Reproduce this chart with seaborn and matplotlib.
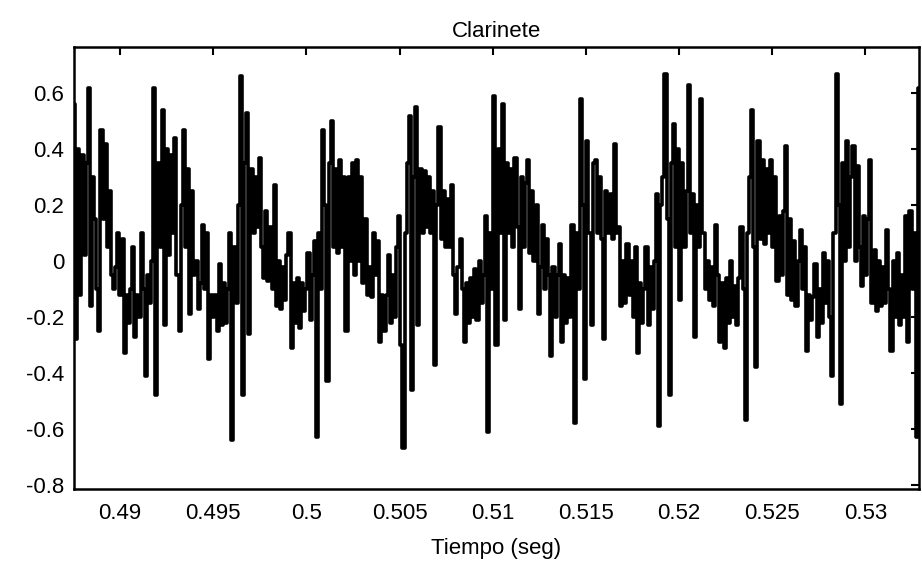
import numpy as np
import pandas as pd
import seaborn as sns
import matplotlib
matplotlib.use("Agg")
import matplotlib.pyplot as plt


FS = 8820            # Hz, sample rate of the trace
T_START = 0.48753    # seconds, first sample shown

# amplitude samples
amp_p01 = [0.56, -0.28, 0.40, -0.12, 0.38, 0.02, 0.35, 0.62, -0.16, 0.30,
           0.15, -0.10, -0.25, 0.47, 0.15, 0.42, 0.05, 0.25, -0.05, -0.10,
           -0.02, 0.10, -0.12, 0.08, -0.33, -0.12, -0.22, -0.10, 0.05, -0.27,
           -0.12, -0.20, 0.10, -0.10, -0.41, -0.05, -0.15, 0.00, 0.62, -0.48]
amp_p02 = [0.35, 0.05, 0.54, -0.23, 0.40, 0.02, 0.38, 0.10, 0.44, -0.05,
           -0.25, 0.20, 0.47, 0.05, 0.33, -0.19, 0.25, -0.05, 0.00, -0.17,
           -0.08, 0.13, -0.10, 0.10, -0.35, -0.12, -0.20, -0.12, -0.25, -0.01,
           -0.23, -0.08, -0.22, -0.10, 0.10, -0.64, 0.05, -0.15, 0.20, 0.66]
amp_p03 = [-0.48, 0.35, 0.53, -0.26, 0.33, 0.10, 0.30, 0.12, 0.37, 0.05,
           -0.06, 0.18, -0.07, 0.12, -0.10, 0.27, -0.16, 0.00, -0.17, -0.02,
           -0.14, 0.02, 0.10, -0.31, -0.08, -0.22, -0.06, -0.24, -0.08, -0.18,
           -0.10, 0.03, -0.21, -0.05, 0.07, -0.63, 0.10, -0.10, 0.47, 0.20]
amp_p04 = [-0.43, 0.35, 0.50, 0.05, 0.33, 0.03, 0.36, 0.05, 0.30, -0.25,
           0.30, 0.00, 0.35, -0.05, 0.36, 0.00, 0.30, -0.08, 0.15, -0.12,
           -0.02, -0.13, 0.10, -0.05, 0.07, -0.29, -0.12, -0.25, -0.12, 0.02,
           -0.22, -0.05, -0.20, 0.05, 0.16, -0.30, -0.67, 0.10, 0.35, 0.52]
amp_p05 = [-0.46, 0.30, 0.55, -0.23, 0.33, 0.10, 0.32, 0.12, 0.30, 0.10,
           0.25, -0.37, 0.20, 0.48, 0.08, 0.25, 0.05, 0.22, 0.05, 0.27,
           -0.05, -0.19, -0.02, 0.08, -0.10, -0.29, -0.08, -0.22, -0.06, -0.20,
           -0.03, -0.21, 0.00, -0.15, -0.05, 0.16, -0.61, 0.10, -0.10, 0.59]
amp_p06 = [-0.30, 0.40, 0.10, 0.56, -0.21, 0.35, 0.10, 0.33, 0.05, 0.37,
           0.12, -0.17, 0.30, 0.05, 0.28, 0.36, 0.03, 0.25, 0.00, 0.20,
           -0.19, -0.02, 0.13, -0.10, 0.08, -0.05, -0.34, -0.02, -0.20, -0.05,
           0.06, -0.29, -0.05, -0.22, -0.06, -0.20, 0.13, -0.58, 0.10, -0.10]
amp_p07 = [0.58, 0.20, -0.42, 0.43, 0.10, -0.23, 0.35, 0.36, 0.10, 0.30,
           0.08, -0.28, 0.25, 0.10, 0.24, 0.08, 0.42, 0.10, 0.12, -0.16,
           0.00, -0.15, 0.06, -0.12, 0.00, -0.20, 0.05, -0.33, -0.08, -0.22,
           -0.10, 0.05, -0.23, -0.02, -0.17, 0.00, 0.24, -0.59, 0.20, 0.30]
amp_p08 = [0.67, 0.15, -0.48, 0.35, 0.49, 0.05, 0.40, -0.14, 0.35, 0.05,
           0.25, 0.63, 0.10, 0.24, -0.27, 0.20, 0.05, 0.58, 0.10, -0.10,
           0.00, -0.14, -0.02, -0.16, 0.13, -0.05, -0.29, -0.08, -0.31, -0.06,
           -0.22, 0.00, -0.20, -0.09, -0.23, -0.06, 0.12, -0.10, -0.57, 0.10]
amp_p09 = [0.30, 0.54, 0.05, -0.38, 0.43, 0.08, 0.36, 0.06, 0.33, 0.10,
           0.36, 0.05, 0.30, -0.07, 0.16, -0.05, 0.18, 0.41, -0.12, 0.15,
           -0.14, 0.07, -0.16, 0.00, 0.11, -0.10, 0.05, -0.32, -0.12, -0.21,
           -0.13, -0.01, -0.27, -0.10, -0.22, 0.03, -0.15, 0.00, -0.20, -0.41]
amp_p10 = [0.10, 0.67, 0.20, -0.51, 0.35, 0.00, 0.43, 0.05, 0.30, 0.41,
           0.00, 0.34, 0.05, -0.09, 0.16, -0.05, 0.15, 0.36, -0.15, 0.04,
           -0.18, 0.00, -0.16, -0.02, -0.15, 0.11, -0.10, -0.32, 0.00, -0.20,
           0.03, -0.23, -0.05, -0.20, 0.16, -0.29, 0.18, -0.10, 0.10, -0.63, 0.62]

XTICKS = [0.49, 0.495, 0.5, 0.505, 0.51, 0.515, 0.52, 0.525, 0.53]
XTICK_LABELS = ["0.49", "0.495", "0.5", "0.505", "0.51", "0.515", "0.52", "0.525", "0.53"]
YTICKS = [0.6, 0.4, 0.2, 0, -0.2, -0.4, -0.6, -0.8]
YTICK_LABELS = ["0.6", "0.4", "0.2", "0", "-0.2", "-0.4", "-0.6", "-0.8"]


amp = np.concatenate([amp_p01, amp_p02, amp_p03, amp_p04, amp_p05,
                      amp_p06, amp_p07, amp_p08, amp_p09, amp_p10])
df = pd.DataFrame({"t": T_START + np.arange(len(amp)) / FS, "amp": amp})

sns.set_theme(style="white")
plt.rcParams['font.family'] = ['Liberation Sans', 'DejaVu Sans']
plt.rcParams['text.color'] = 'black'
plt.rcParams['axes.labelcolor'] = 'black'

fig = plt.figure(figsize=(9.22, 5.62), dpi=100)
ax = fig.add_axes([74 / 922, 1 - 489 / 562, 845 / 922, 442 / 562])

# blocky vertical strokes like the scanned trace
sns.lineplot(data=df, x="t", y="amp", color="black", linewidth=2.6,
             estimator=None, sort=False, drawstyle="steps-mid", ax=ax)

ax.set_xlim(df["t"].iloc[0], df["t"].iloc[-1])
ax.set_ylim(-0.815, 0.765)
ax.set_xticks(XTICKS)
ax.set_xticklabels(XTICK_LABELS)
ax.set_yticks(YTICKS)
ax.set_yticklabels(YTICK_LABELS)
ax.tick_params(direction="in", length=6, width=1.5, top=True, right=True,
               labelsize=16, colors="black")
ax.tick_params(axis="x", pad=10)
ax.tick_params(axis="y", pad=7)

for sp in ax.spines.values():
    sp.set_color("black")
    sp.set_linewidth(1.8)

ax.set_title("Clarinete", fontsize=16, pad=7, color="black")
ax.set_xlabel("Tiempo (seg)", fontsize=16, labelpad=10, color="black")
ax.set_ylabel("")

fig.savefig("out.png", dpi=100)
